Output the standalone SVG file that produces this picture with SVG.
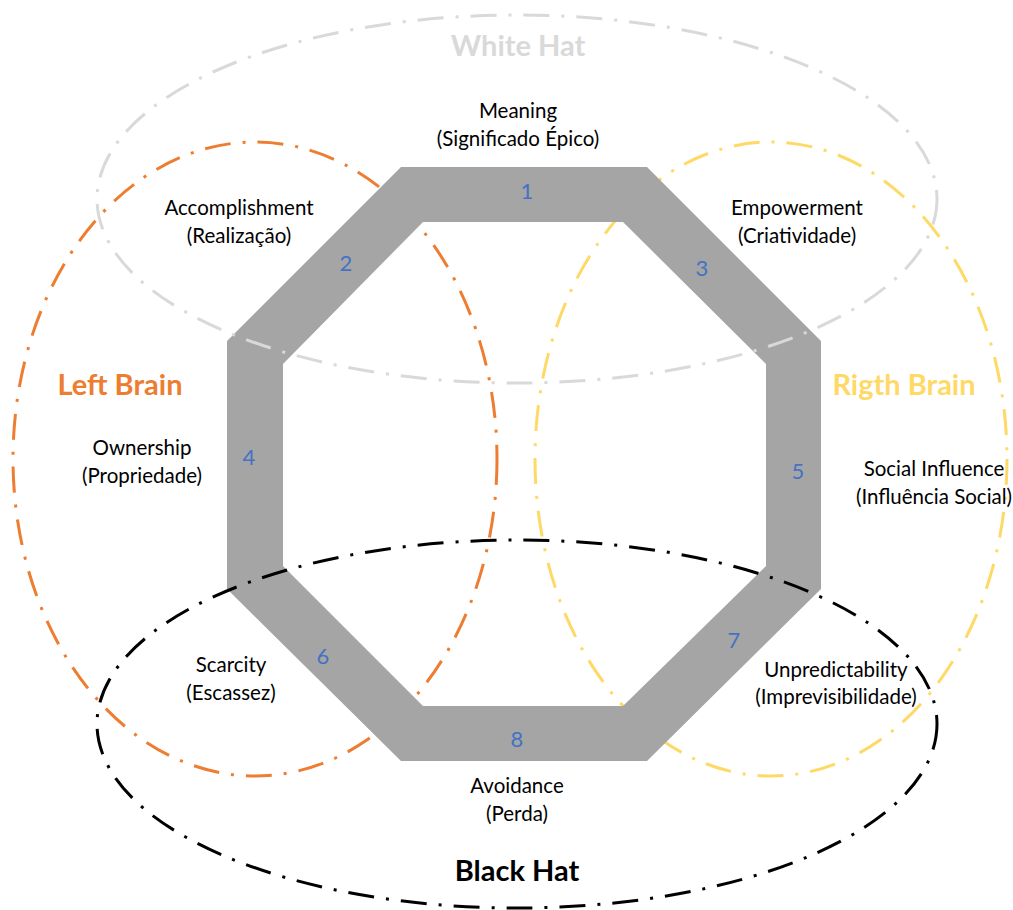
<svg xmlns="http://www.w3.org/2000/svg" width="1013" height="910" viewBox="0 0 1013 910">
  <style>
    .ring { fill: none; stroke-width: 3; stroke-dasharray: 26 12 3 12; }
    .lbl { font-family: Lato, "Liberation Sans", sans-serif; font-size: 20.5px; fill: #000; text-anchor: middle; }
    .num { font-family: Lato, "Liberation Sans", sans-serif; font-size: 22px; fill: #4472c4; text-anchor: middle; }
    .zone { font-family: Lato, "Liberation Sans", sans-serif; font-size: 29px; font-weight: bold; text-anchor: middle; }
  </style>
  <rect width="1013" height="910" fill="#fff"/>

  <!-- brain hemispheres sit beneath the octagon -->
  <g id="connectors">
    <ellipse id="left-brain-ring" class="ring" cx="255" cy="459" rx="242" ry="317" stroke="#ed7d31"/>
    <ellipse id="right-brain-ring" class="ring" cx="771" cy="459" rx="236" ry="317" stroke="#ffd966"/>
  </g>

  <!-- octagon band -->
  <g id="octagon">
    <path fill="#a5a5a5" fill-rule="evenodd"
          d="M401,167 L647,167 L821,341 L821,589 L647,761 L401,761 L227,589 L227,341 Z
             M423,222 L283,364 L283,566 L423,706 L623,706 L766,566 L766,364 L623,222 Z"/>
  </g>

  <!-- hats sit over the octagon -->
  <g id="hats">
    <ellipse id="white-hat-ring" class="ring" cx="517" cy="199" rx="420" ry="184" stroke="#d9d9d9"/>
    <ellipse id="black-hat-ring" class="ring" cx="517" cy="724" rx="420" ry="184" stroke="#000"/>
  </g>

  <g id="zone-labels">
    <text id="white-hat" class="zone" x="518" y="56" fill="#d9d9d9">White Hat</text>
    <text id="black-hat" class="zone" x="517" y="881" fill="#000">Black Hat</text>
    <text id="left-brain" class="zone" x="120" y="395" fill="#ed7d31">Left Brain</text>
    <text id="right-brain" class="zone" x="904" y="395" fill="#ffd966">Rigth Brain</text>
  </g>

  <g id="node-1">
    <text class="lbl" x="518" y="118">Meaning</text>
    <text class="lbl" x="518" y="146">(Significado Épico)</text>
    <text class="num" x="527" y="199">1</text>
  </g>
  <g id="node-2">
    <text class="lbl" x="239" y="215">Accomplishment</text>
    <text class="lbl" x="239" y="243">(Realização)</text>
    <text class="num" x="346" y="271">2</text>
  </g>
  <g id="node-3">
    <text class="lbl" x="797" y="215">Empowerment</text>
    <text class="lbl" x="797" y="243">(Criatividade)</text>
    <text class="num" x="702" y="276">3</text>
  </g>
  <g id="node-4">
    <text class="lbl" x="142" y="455">Ownership</text>
    <text class="lbl" x="142" y="483">(Propriedade)</text>
    <text class="num" x="249" y="465">4</text>
  </g>
  <g id="node-5">
    <text class="lbl" x="934" y="476">Social Influence</text>
    <text class="lbl" x="934" y="504">(Influência Social)</text>
    <text class="num" x="798" y="479">5</text>
  </g>
  <g id="node-6">
    <text class="lbl" x="231" y="672">Scarcity</text>
    <text class="lbl" x="231" y="700">(Escassez)</text>
    <text class="num" x="323" y="664">6</text>
  </g>
  <g id="node-7">
    <text class="lbl" x="836" y="677">Unpredictability</text>
    <text class="lbl" x="836" y="704">(Imprevisibilidade)</text>
    <text class="num" x="734" y="648">7</text>
  </g>
  <g id="node-8">
    <text class="lbl" x="517" y="793">Avoidance</text>
    <text class="lbl" x="517" y="821">(Perda)</text>
    <text class="num" x="517" y="747">8</text>
  </g>
</svg>
